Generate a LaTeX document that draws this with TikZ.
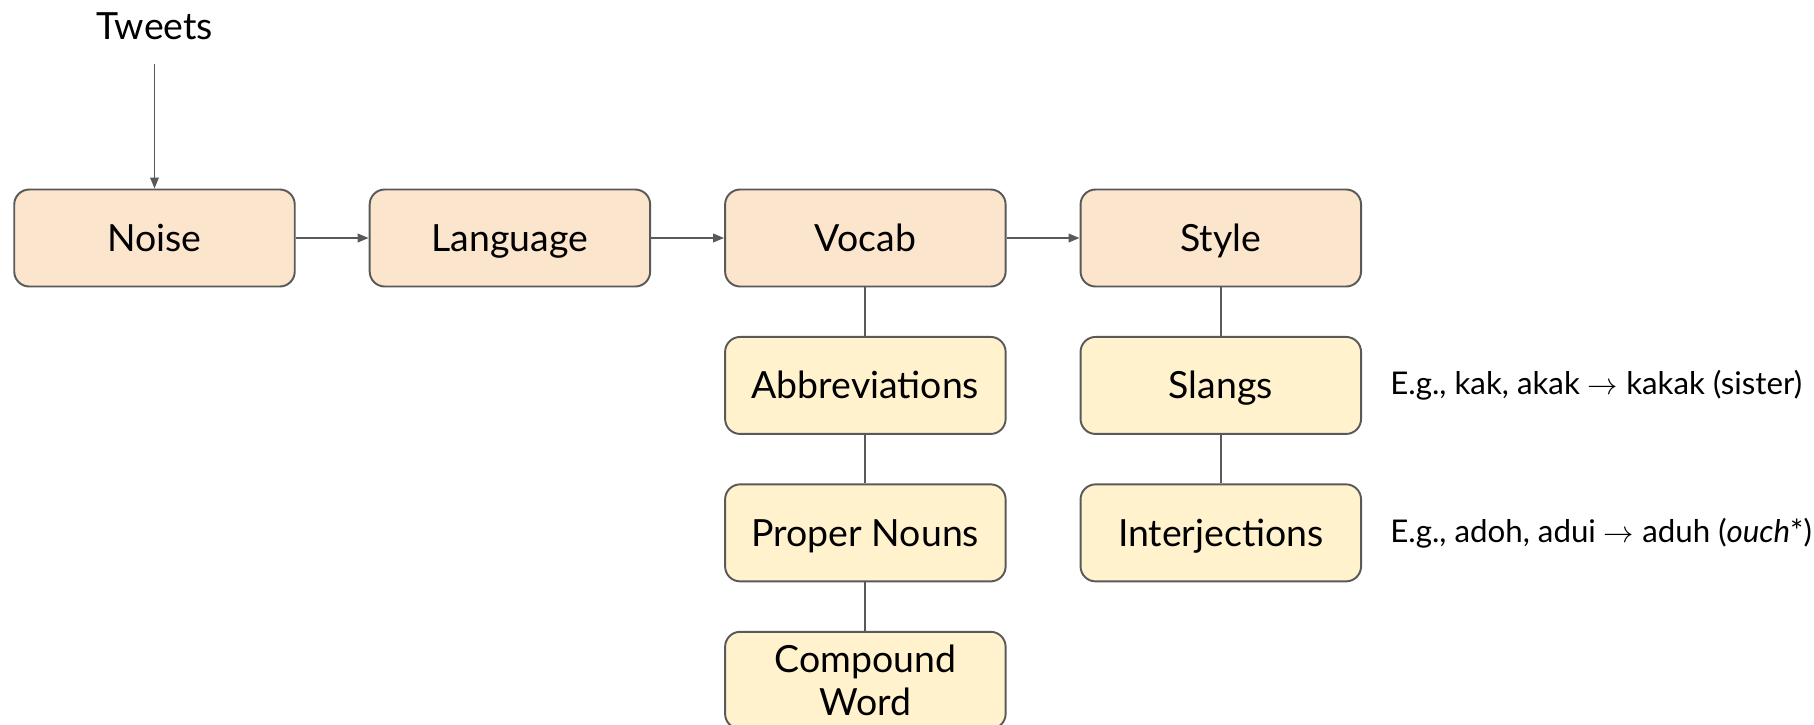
\documentclass[tikz,border=0pt]{standalone}
\usepackage{fontspec}
\setmainfont{Lato}
\usetikzlibrary{arrows.meta, positioning}

\definecolor{boxline}{HTML}{595959}
\definecolor{mainfill}{HTML}{FCE5CD}
\definecolor{subfill}{HTML}{FFF2CC}

\begin{document}
\begin{tikzpicture}[
  node distance=0.97cm and 1.46cm,
  block/.style={rectangle, draw=boxline, line width=1.1pt, rounded corners=0.3cm,
    minimum width=5.61cm, minimum height=1.94cm, align=center,
    text height=17pt, text depth=2pt,
    font=\fontsize{21.3}{25}\selectfont},
  stage/.style={block, fill=mainfill},
  kind/.style={block, fill=subfill},
  note/.style={inner sep=0pt, anchor=west, font=\fontsize{17.8}{21}\selectfont},
  flow/.style={-{Triangle[length=0.22cm, width=0.17cm]}, draw=boxline, line width=1.1pt},
  link/.style={draw=boxline, line width=1.1pt}
]
  \useasboundingbox (0,0) rectangle (36.28,-14.48);

  \node[font=\fontsize{21.3}{25}\selectfont] (tweets) at (3.09,-0.52) {Tweets};

  \node[stage] (noise) at (3.09,-4.76) {Noise};
  \node[stage, right=of noise] (language) {Language};
  \node[stage, right=of language] (vocab) {Vocab};
  \node[stage, right=of vocab] (style) {Style};

  \node[kind, below=of vocab] (abbrev) {Abbreviations};
  \node[kind, below=of abbrev] (proper) {Proper Nouns};
  \node[kind, below=of proper, text height={}, text depth={}] (compound) {Compound\\Word};
  \node[kind, below=of style] (slangs) {Slangs};
  \node[kind, below=of slangs] (interj) {Interjections};

  \node[note, right=0.56cm of slangs] (slangnote)
    {E.g., kak, akak $\rightarrow$ kakak (sister)};
  \node[note, right=0.56cm of interj] (interjnote)
    {E.g., adoh, adui $\rightarrow$ aduh (\textit{ouch}*)};

  \draw[flow, shorten <=0.36cm] (tweets) -- (noise);
  \draw[flow] (noise) -- (language);
  \draw[flow] (language) -- (vocab);
  \draw[flow] (vocab) -- (style);

  \draw[link] (vocab) -- (abbrev);
  \draw[link] (abbrev) -- (proper);
  \draw[link] (proper) -- (compound);
  \draw[link] (style) -- (slangs);
  \draw[link] (slangs) -- (interj);
\end{tikzpicture}
\end{document}
